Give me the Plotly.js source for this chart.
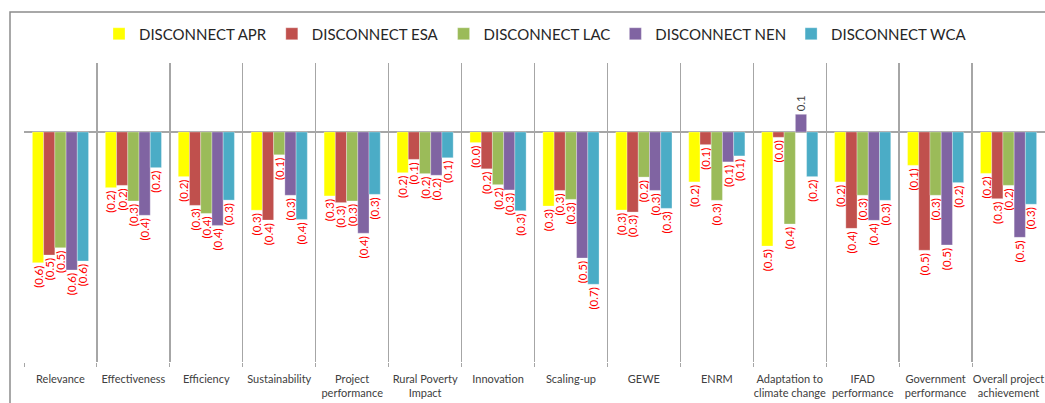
<!DOCTYPE html>
<html><head><meta charset="utf-8">
<script src="https://cdn.plot.ly/plotly-3.0.1.min.js"></script>
<style>html,body{margin:0;padding:0;background:#fff;}#chart{width:1045px;height:403px;}</style>
</head><body><div id="chart"></div>
<script>
const categories = ["Relevance","Effectiveness","Efficiency","Sustainability","Project<br>performance","Rural Poverty<br>Impact","Innovation","Scaling-up","GEWE","ENRM","Adaptation to<br>climate change","IFAD<br>performance","Government<br>performance","Overall project<br>achievement"];
const seriesNames = ["DISCONNECT APR","DISCONNECT ESA","DISCONNECT LAC","DISCONNECT NEN","DISCONNECT WCA"];
const apr = [-0.568,-0.242,-0.194,-0.34,-0.278,-0.177,-0.046,-0.322,-0.339,-0.217,-0.496,-0.217,-0.145,-0.18];
const esa = [-0.535,-0.232,-0.319,-0.383,-0.307,-0.119,-0.16,-0.254,-0.348,-0.055,-0.023,-0.419,-0.514,-0.29];
const lac = [-0.503,-0.3,-0.354,-0.099,-0.3,-0.181,-0.229,-0.293,-0.196,-0.297,-0.4,-0.275,-0.275,-0.232];
const nen = [-0.6,-0.362,-0.406,-0.275,-0.44,-0.188,-0.252,-0.548,-0.254,-0.13,0.077,-0.384,-0.491,-0.458];
const wca = [-0.561,-0.155,-0.296,-0.38,-0.271,-0.112,-0.342,-0.662,-0.332,-0.104,-0.194,-0.297,-0.22,-0.314];
const colors = ["#FFFF00","#C0504D","#9BBB59","#8064A2","#4BACC6"];

const allSeries = [apr, esa, lac, nen, wca];
const fmt = v => v < 0 ? "(" + Math.abs(v).toFixed(1) + ")" : v.toFixed(1);
const traces = allSeries.map((vals, i) => ({
  type: "bar",
  name: seriesNames[i],
  x: categories,
  y: vals,
  marker: {color: colors[i], line: {color: "rgba(255,255,255,0.6)", width: 0.5}},
  text: vals.map(fmt),
  textposition: "outside",
  textangle: -90,
  constraintext: "none",
  cliponaxis: false,
  textfont: {family: "Lato, 'Open Sans', sans-serif", size: 11.5, color: vals.map(v => v < 0 ? "#FF0000" : "#404040")},
  hoverinfo: "skip"
}));

const layout = {
  width: 1045, height: 403,
  margin: {l: 24, r: 0, t: 63, b: 41},
  paper_bgcolor: "#ffffff", plot_bgcolor: "#ffffff",
  barmode: "group", bargap: 0.23, bargroupgap: 0,
  font: {family: "Lato, 'Open Sans', sans-serif", color: "#404040"},
  showlegend: true,
  legend: {orientation: "h", xref: "container", yref: "container", x: 99/1045, xanchor: "left", y: 1 - 34/403, yanchor: "middle",
           bgcolor: "rgba(0,0,0,0)", font: {size: 15, color: "#262626"}, traceorder: "normal"},
  xaxis: {type: "category", range: [-0.5, 13.5], tickson: "boundaries", showgrid: true, gridcolor: "#A6A6A6", gridwidth: 1.3,
          ticks: "outside", ticklen: 4, tickcolor: "#A6A6A6", showline: false, zeroline: false, tickangle: 0,
          ticklabelstandoff: 9, tickfont: {size: 11, color: "#404040"}, fixedrange: true},
  yaxis: {range: [-1.0, 0.3], showticklabels: false, showgrid: false, zeroline: true, zerolinecolor: "#A6A6A6", zerolinewidth: 1.3,
          showline: false, ticks: "", fixedrange: true},
  shapes: [{type: "rect", xref: "paper", yref: "paper", x0: (10-24)/1021, x1: 1.2, y0: -0.3, y1: (362-12)/299,
            line: {color: "#8C8C8C", width: 1.5}, fillcolor: "rgba(0,0,0,0)", layer: "below"}]
};
Plotly.newPlot("chart", traces, layout, {displayModeBar: false, staticPlot: true});
</script></body></html>
